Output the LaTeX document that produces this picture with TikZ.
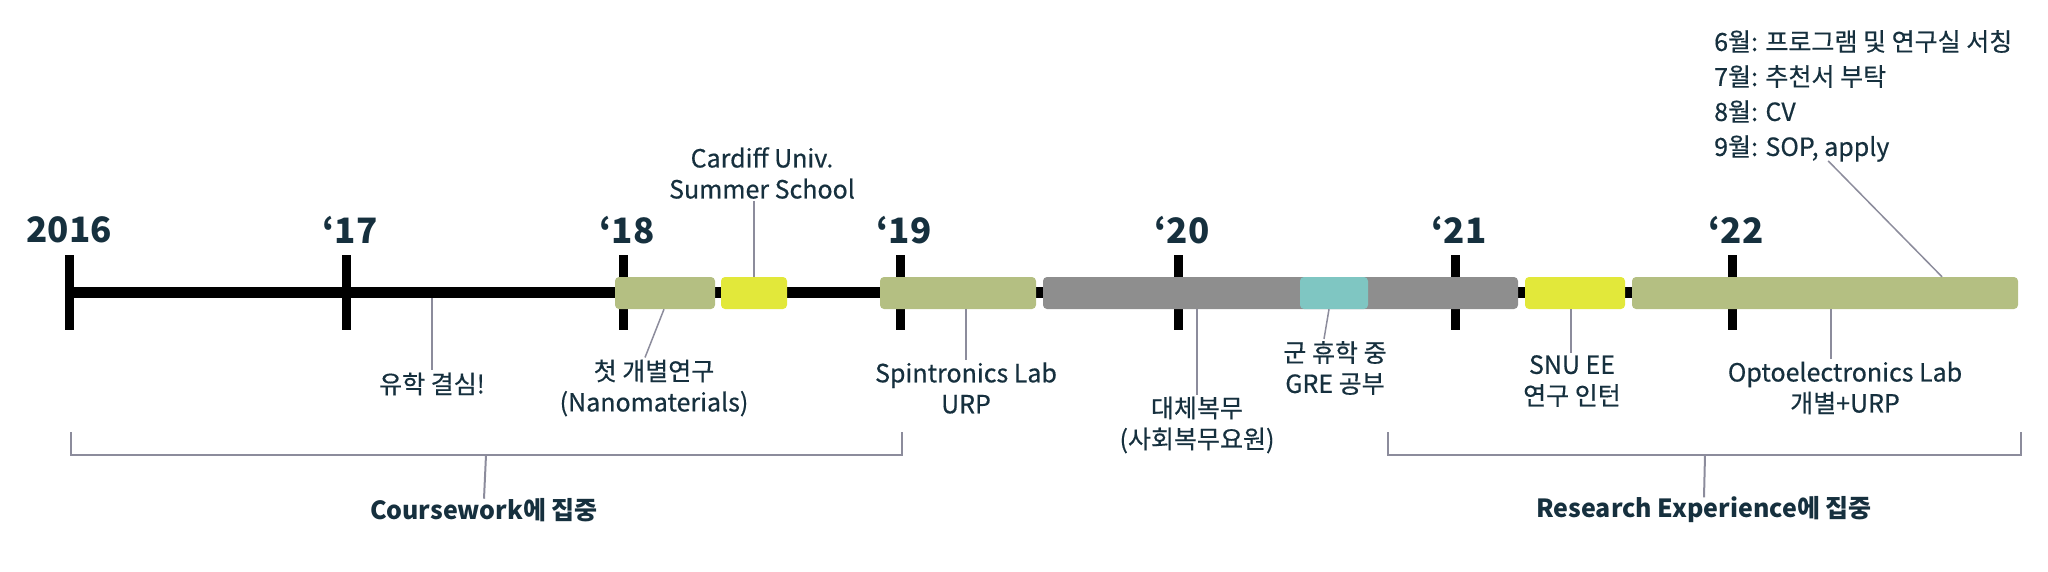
\documentclass[tikz,border=0pt]{standalone}
\usepackage{fontspec}
\setmainfont{Noto Sans CJK KR}
\newfontfamily\tlmedium{Noto Sans CJK KR}[FakeBold=0.5]
\usetikzlibrary{positioning}
\definecolor{TlInk}{RGB}{22,48,62}
\definecolor{TlGreen}{RGB}{180,191,130}
\definecolor{TlYellow}{RGB}{226,232,58}
\definecolor{TlGray}{RGB}{142,142,142}
\definecolor{TlTeal}{RGB}{127,198,194}
\definecolor{TlLead}{RGB}{140,140,156}
\tikzset{
  tl/bar/.style={
    draw=none,
    rounded corners=4pt,
    minimum height=32pt,
    inner sep=0pt
  },
  tl/tick/.style={line width=9pt, draw=black},
  tl/axis/.style={line width=11pt, draw=black},
  tl/year/.style={font=\fontsize{35}{38}\selectfont\bfseries, text=TlInk},
  tl/label/.style={font=\fontsize{25}{31}\selectfont\tlmedium, text=TlInk, align=center, inner sep=2pt},
  tl/lead/.style={draw=TlLead, line width=1.5pt},
  tl/brace/.style={draw=TlLead, line width=2pt},
  tl/focus/.style={font=\fontsize{25}{28}\selectfont\bfseries, text=TlInk, align=center}
}

\begin{document}
\begin{tikzpicture}[x=1pt,y=-1pt]
  \useasboundingbox (0,0) rectangle (2048,571);

  % years and ticks
  \node[tl/year] (y16) at (69,230) {2016};
  \node[tl/year] (y17) at (350,230) {‘17};
  \node[tl/year] (y18) at (627,230) {‘18};
  \node[tl/year] (y19) at (904,230) {‘19};
  \node[tl/year] (y20) at (1182,230) {‘20};
  \node[tl/year] (y21) at (1459,230) {‘21};
  \node[tl/year] (y22) at (1736,230) {‘22};
  \draw[tl/tick] (69,255) -- (69,330);
  \draw[tl/tick] (346,255) -- (346,330);
  \draw[tl/tick] (623,255) -- (623,330);
  \draw[tl/tick] (900,255) -- (900,330);
  \draw[tl/tick] (1178,255) -- (1178,330);
  \draw[tl/tick] (1455,255) -- (1455,330);
  \draw[tl/tick] (1732,255) -- (1732,330);

  \coordinate (start) at (69,292);
  \coordinate (stop) at (1800,292);
  \draw[tl/axis] (start) -- (stop);

  % periods
  \node[tl/bar,fill=TlGreen,minimum width=100pt] (nano) at (665,293) {};
  \node[tl/bar,fill=TlYellow,minimum width=66pt] (cardiff) at (754,293) {};
  \node[tl/bar,fill=TlGreen,minimum width=156pt] (spin) at (958,293) {};
  \node[tl/bar,fill=TlGray,minimum width=475pt] (service) at (1280.5,293) {};
  \node[tl/bar,fill=TlTeal,minimum width=68pt] (gre) at (1334,293) {};
  \node[tl/bar,fill=TlYellow,minimum width=100pt] (snu) at (1575,293) {};
  \node[tl/bar,fill=TlGreen,minimum width=386pt] (opto) at (1825,293) {};

  % labels
  \coordinate (decide) at (432,298);
  \node[tl/label] (decidelbl) at (432,384) {유학 결심!};
  \node[tl/label] (nanolbl) at (654,388) {첫 개별연구\\(Nanomaterials)};
  \node[tl/label] (cardifflbl) at (762,173) {Cardiff Univ.\\Summer School};
  \node[tl/label] (spinlbl) at (966,388) {Spintronics Lab\\URP};
  \node[tl/label] (servicelbl) at (1197,425) {대체복무\\(사회복무요원)};
  \node[tl/label] (grelbl) at (1335,368) {군 휴학 중\\GRE 공부};
  \node[tl/label] (snulbl) at (1572,381) {SNU EE\\연구 인턴};
  \node[tl/label] (optolbl) at (1845,388) {Optoelectronics Lab\\개별+URP};
  \node[tl/label,anchor=west,align=left,font=\fontsize{25}{35}\selectfont\tlmedium] (plan) at (1712,96)
    {6월: 프로그램 및 연구실 서칭\\7월: 추천서 부탁\\8월: CV\\9월: SOP, apply};

  \draw[tl/lead] (decide) -- (decidelbl.north);
  \draw[tl/lead] ([xshift=-1pt]nano.south) -- ([xshift=-9pt]nanolbl.north);
  \draw[tl/lead] (cardifflbl.south -| cardiff.north) -- (cardiff.north);
  \draw[tl/lead] (spin.south -| spinlbl.north) -- (spinlbl.north);
  \draw[tl/lead] (service.south -| servicelbl.north) -- (servicelbl.north);
  \draw[tl/lead] ([xshift=-5pt]gre.south) -- ([xshift=-11pt]grelbl.north);
  \draw[tl/lead] ([xshift=-4pt]snu.south) -- ([xshift=-1pt]snulbl.north);
  \draw[tl/lead] ([xshift=6pt]opto.south) -- ([xshift=-14pt]optolbl.north);
  \draw[tl/lead] ([xshift=-35pt,yshift=3pt]plan.south) -- ([xshift=117pt]opto.north);

  % focus brackets
  \coordinate (cw1) at (71,432);
  \coordinate (cw2) at (902,432);
  \node[tl/focus] (cwlbl) at (484,510) {Coursework에 집중};
  \draw[tl/brace] (cw1) |- (486,455) -| (cw2);
  \draw[tl/brace] (486,455) -- ([yshift=-4pt]cwlbl.north);
  \coordinate (re1) at (1388,432);
  \coordinate (re2) at (2021,432);
  \node[tl/focus] (relbl) at (1704,510) {Research Experience에 집중};
  \draw[tl/brace] (re1) |- (1705,455) -| (re2);
  \draw[tl/brace] (1705,455) -- ([yshift=-4pt]relbl.north);
\end{tikzpicture}
\end{document}
